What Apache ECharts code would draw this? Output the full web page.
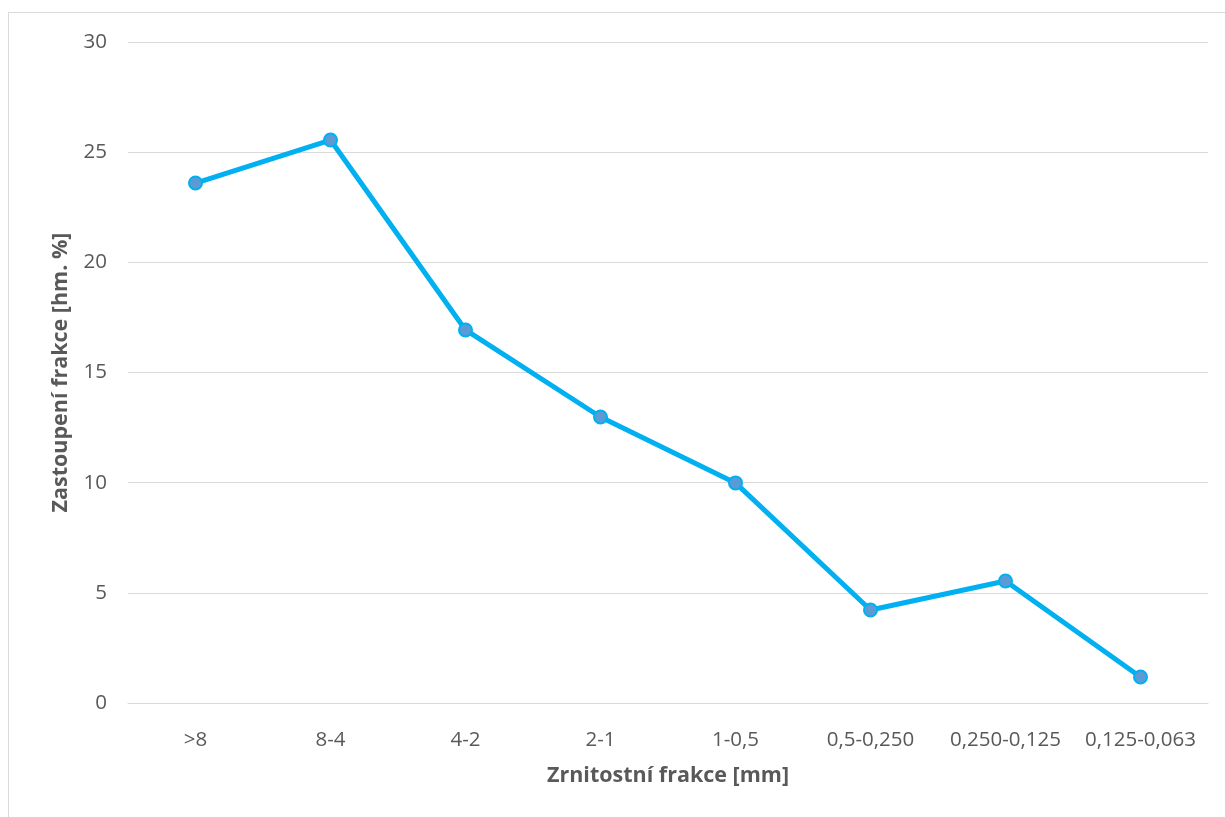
<!DOCTYPE html>
<html>
<head>
<meta charset="utf-8">
<script src="https://cdn.jsdelivr.net/npm/echarts@6/dist/echarts.min.js"></script>
<style>
html,body{margin:0;padding:0;background:#fff;}
#frame{position:absolute;left:8px;top:12px;width:1230px;height:820px;border:1px solid #d9d9d9;box-sizing:border-box;}
#chart{position:absolute;left:0;top:0;width:1225px;height:817px;}
</style>
</head>
<body>
<div id="frame"></div>
<div id="chart"></div>
<script>
var categories = ['>8', '8-4', '4-2', '2-1', '1-0,5', '0,5-0,250', '0,250-0,125', '0,125-0,063'];
var values = [23.6, 25.55, 16.93, 12.98, 9.99, 4.22, 5.54, 1.18];
var xTitle = 'Zrnitostní frakce [mm]';
var yTitle = 'Zastoupení frakce [hm. %]';

var chart = echarts.init(document.getElementById('chart'));
var font = '"Open Sans", "Noto Sans", sans-serif';
chart.setOption({
  animation: false,
  backgroundColor: 'transparent',
  grid: {left: 128, right: 17, top: 42, bottom: 114},
  xAxis: {
    type: 'category',
    data: categories,
    boundaryGap: true,
    name: xTitle,
    nameLocation: 'middle',
    nameGap: 62,
    nameTextStyle: {fontFamily: font, fontSize: 21.5, fontWeight: 'bold', color: '#595959'},
    axisLine: {show: true, lineStyle: {color: '#d9d9d9', width: 1}},
    axisTick: {show: false},
    axisLabel: {fontFamily: font, fontSize: 20.5, color: '#595959', margin: 27, interval: 0}
  },
  yAxis: {
    type: 'value',
    min: 0, max: 30, interval: 5,
    name: yTitle,
    nameLocation: 'middle',
    nameGap: 56,
    nameRotate: 90,
    nameTextStyle: {fontFamily: font, fontSize: 21.5, fontWeight: 'bold', color: '#595959'},
    axisLine: {show: false},
    axisTick: {show: false},
    axisLabel: {fontFamily: font, fontSize: 20.5, color: '#595959', margin: 21},
    splitLine: {lineStyle: {color: '#d9d9d9', width: 1}}
  },
  series: [{
    type: 'line',
    data: values,
    symbol: 'circle',
    symbolSize: 13,
    lineStyle: {color: '#00B0F0', width: 5},
    itemStyle: {color: '#5B9BD5', borderColor: '#00B0F0', borderWidth: 2},
    z: 3
  }]
});
</script>
</body>
</html>
